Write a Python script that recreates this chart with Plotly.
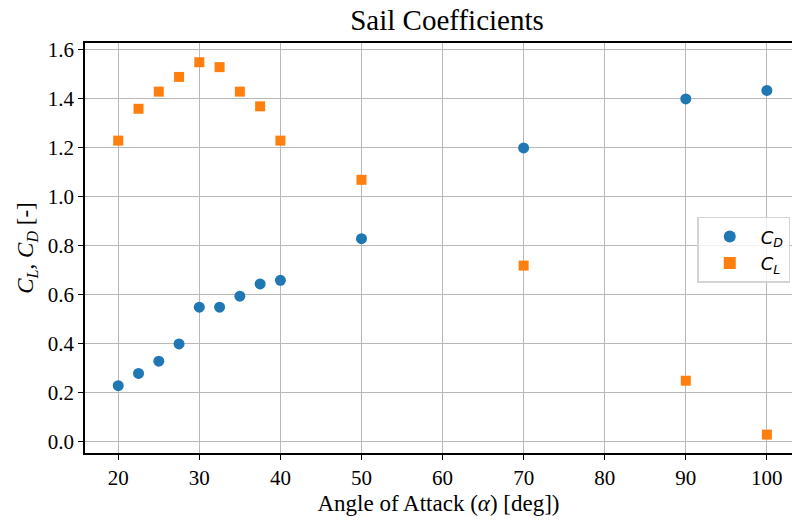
import plotly.graph_objects as go

alpha = [20, 22.5, 25, 27.5, 30, 32.5, 35, 37.5, 40, 50, 70, 90, 100]
cd = [0.23, 0.28, 0.33, 0.40, 0.55, 0.55, 0.595, 0.645, 0.66, 0.83, 1.20, 1.40, 1.435]
cl = [1.23, 1.36, 1.43, 1.49, 1.55, 1.53, 1.43, 1.37, 1.23, 1.07, 0.72, 0.25, 0.03]

x_ticks = [20, 30, 40, 50, 60, 70, 80, 90, 100]
y_ticks = [0.0, 0.2, 0.4, 0.6, 0.8, 1.0, 1.2, 1.4, 1.6]

serif = "Liberation Serif, Times New Roman, serif"

fig = go.Figure()
fig.add_trace(go.Scatter(
    x=alpha, y=cd, mode="markers", name="<i>C<sub>D</sub></i>",
    marker=dict(symbol="circle", size=11, color="#1f77b4", line=dict(width=0)),
))
fig.add_trace(go.Scatter(
    x=alpha, y=cl, mode="markers", name="<i>C<sub>L</sub></i>",
    marker=dict(symbol="square", size=10, color="#ff7f0e", line=dict(width=0)),
))

fig.update_layout(
    width=792, height=522,
    margin=dict(l=85, r=0, t=43, b=69),
    paper_bgcolor="white", plot_bgcolor="white",
    font=dict(family=serif, size=21, color="black"),
    title=dict(text="Sail Coefficients", x=447 / 792, xanchor="center",
               y=1 - 20 / 522, yanchor="middle", font=dict(family=serif, size=29, color="black")),
    showlegend=True,
    legend=dict(
        x=0.866, y=0.576, xanchor="left", yanchor="top",
        bgcolor="rgba(255,255,255,0.8)", bordercolor="#d4d4d4", borderwidth=1.5,
        font=dict(family="DejaVu Sans, sans-serif", size=18, color="black"),
        itemsizing="constant", itemwidth=52, tracegroupgap=0,
    ),
)

fig.update_xaxes(
    range=[15.9, 103.1], tickvals=x_ticks, ticktext=[str(v) for v in x_ticks],
    showgrid=True, gridcolor="#b8b8b8", gridwidth=1,
    showline=True, linecolor="black", linewidth=1.5, mirror=True,
    ticks="outside", ticklen=5, tickcolor="black", tickwidth=1.2,
    zeroline=False,
    tickfont=dict(family=serif, size=21, color="black"),
    title=dict(text="Angle of Attack (<i>α</i>) [deg])", font=dict(family=serif, size=23, color="black"), standoff=6),
)
fig.update_yaxes(
    range=[-0.045, 1.6285], tickvals=y_ticks, ticktext=[f"{v:.1f}" for v in y_ticks],
    showgrid=True, gridcolor="#b8b8b8", gridwidth=1,
    showline=True, linecolor="black", linewidth=1.5, mirror=False,
    ticks="outside", ticklen=5, tickcolor="black", tickwidth=1.2,
    zeroline=False,
    tickfont=dict(family=serif, size=21, color="black"),
    title=dict(text="<i>C<sub>L</sub></i>, <i>C<sub>D</sub></i> [-]", font=dict(family=serif, size=23, color="black"), standoff=8),
)

fig.write_html("out.html")
